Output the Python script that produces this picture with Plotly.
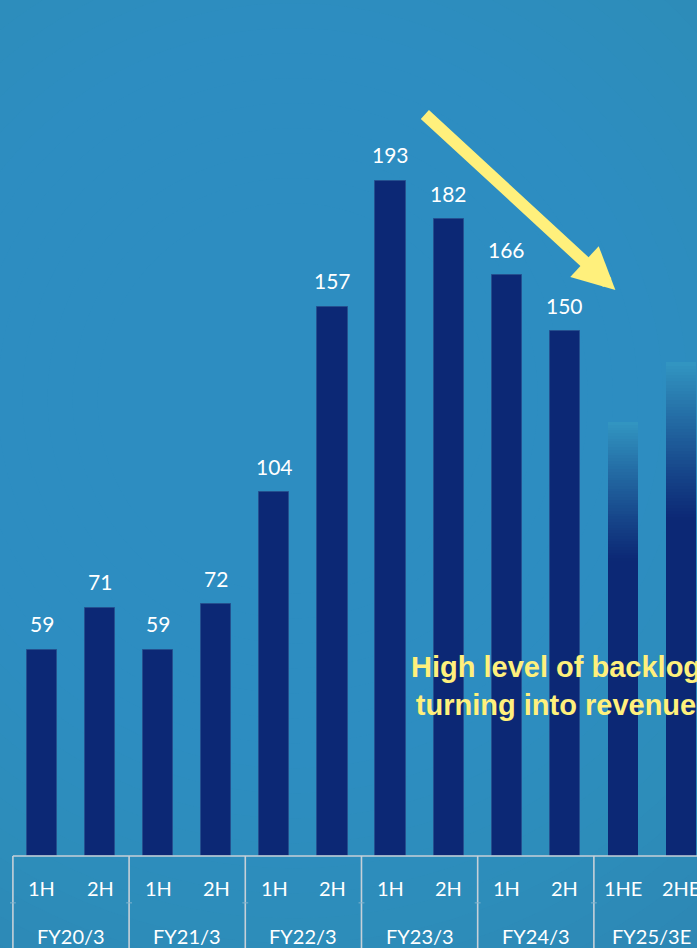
import plotly.graph_objects as go

# ---------------- data ----------------
periods = ["1H", "2H", "1H", "2H", "1H", "2H", "1H", "2H", "1H", "2H", "1HE", "2HE"]
fiscal_years = ["FY20/3", "FY21/3", "FY22/3", "FY23/3", "FY24/3", "FY25/3E"]
actual_values = [59, 71, 59, 72, 104, 157, 193, 182, 166, 150]
forecast_values = [124, 141]          # visible (faded) top of the estimate bars
forecast_solid_fraction = 0.68        # share of the estimate bar drawn solid
note_text = "High level of backlog<br>turning into revenue"

NAVY = "#0c2875"
BG = "#3296c2"
YELLOW = "#fff07c"
LINE = "#c6d0d8"

n_actual = len(actual_values)
x_actual = list(range(n_actual))
x_forecast = list(range(n_actual, n_actual + len(forecast_values)))
BAR_W = 0.52

fig = go.Figure()

# actual bars
fig.add_trace(go.Bar(
    x=x_actual, y=actual_values, width=BAR_W,
    marker=dict(color=NAVY, line=dict(color="#24508f", width=1)),
    hoverinfo="skip", showlegend=False,
))

# forecast bars: solid base + fading gradient segments
def hex2rgb(h):
    h = h.lstrip("#")
    return tuple(int(h[i:i + 2], 16) for i in (0, 2, 4))

c0, c1 = hex2rgb(NAVY), hex2rgb(BG)
N_SEG = 50
for xi, v in zip(x_forecast, forecast_values):
    solid = v * forecast_solid_fraction
    seg = (v - solid) / N_SEG
    bases = [0] + [solid + k * seg for k in range(N_SEG)]
    heights = [solid] + [seg * 1.05] * N_SEG
    colors = [NAVY]
    for k in range(N_SEG):
        t = (k + 0.5) / N_SEG
        t = t ** 1.1
        r = [round(c0[j] + (c1[j] - c0[j]) * t) for j in range(3)]
        colors.append("rgb(%d,%d,%d)" % tuple(r))
    fig.add_trace(go.Bar(
        x=[xi] * len(bases), y=heights, base=bases, width=BAR_W,
        marker=dict(color=colors, line=dict(width=0)),
        hoverinfo="skip", showlegend=False,
    ))

annotations = []
# value labels
for xi, v in zip(x_actual, actual_values):
    annotations.append(dict(x=xi, y=v, text=str(v), showarrow=False, yshift=26,
                            font=dict(family="Lato", size=21, color="white")))

# category labels
for xi, p in enumerate(periods):
    annotations.append(dict(x=xi, y=-9.1, text=p, showarrow=False,
                            font=dict(family="Lato", size=20, color="white")))
for gi, fy in enumerate(fiscal_years):
    annotations.append(dict(x=2 * gi + 0.5, y=-22.9, text=fy, showarrow=False,
                            font=dict(family="Lato", size=20, color="white")))

# note text
annotations.append(dict(x=8.84, y=48.6, text=note_text, showarrow=False, align="center",
                        font=dict(family="Liberation Sans, Arial", size=29, color=YELLOW,
                                  weight="bold")))
# arrow
annotations.append(dict(x=9.87, y=161.7, ax=-192, ay=-177, text="", showarrow=True,
                        arrowhead=2, arrowwidth=12, arrowsize=0.7, arrowcolor=YELLOW,
                        standoff=0))

shapes = []
# radial-ish background glow
cx, cy = 0.42, 0.58
for k, R in enumerate(range(720, 180, -25)):
    rx, ry = R / 697, R / 948
    shapes.append(dict(type="circle", xref="paper", yref="paper",
                       x0=cx - rx, x1=cx + rx, y0=cy - ry, y1=cy + ry,
                       fillcolor="#349ac7", opacity=0.08, line=dict(width=0),
                       layer="below"))
# table lines
shapes.append(dict(type="line", xref="x", yref="y", x0=-0.5, x1=12, y0=0, y1=0,
                   line=dict(color=LINE, width=1.6)))
for gi in range(len(fiscal_years)):
    xb = 2 * gi - 0.5
    shapes.append(dict(type="line", xref="x", yref="y", x0=xb, x1=xb, y0=0, y1=-30,
                       line=dict(color=LINE, width=1.6)))
    shapes.append(dict(type="line", xref="x", yref="y", x0=xb - 0.05, x1=xb + 0.05,
                       y0=-13.4, y1=-13.4, line=dict(color="#7fb3cf", width=1)))

fig.update_layout(
    width=697, height=948, autosize=False,
    margin=dict(l=0, r=0, t=0, b=0),
    paper_bgcolor="#2d85b0", plot_bgcolor="rgba(0,0,0,0)",
    barmode="overlay", bargap=0,
    xaxis=dict(range=[-0.722, 11.275], visible=False, fixedrange=True),
    yaxis=dict(range=[-26.3, 244.6], visible=False, fixedrange=True),
    annotations=annotations, shapes=shapes,
    showlegend=False,
)

fig.write_html("out.html", config={"displayModeBar": False},
               post_script="document.body.style.margin='0';document.body.style.overflow='hidden';")
